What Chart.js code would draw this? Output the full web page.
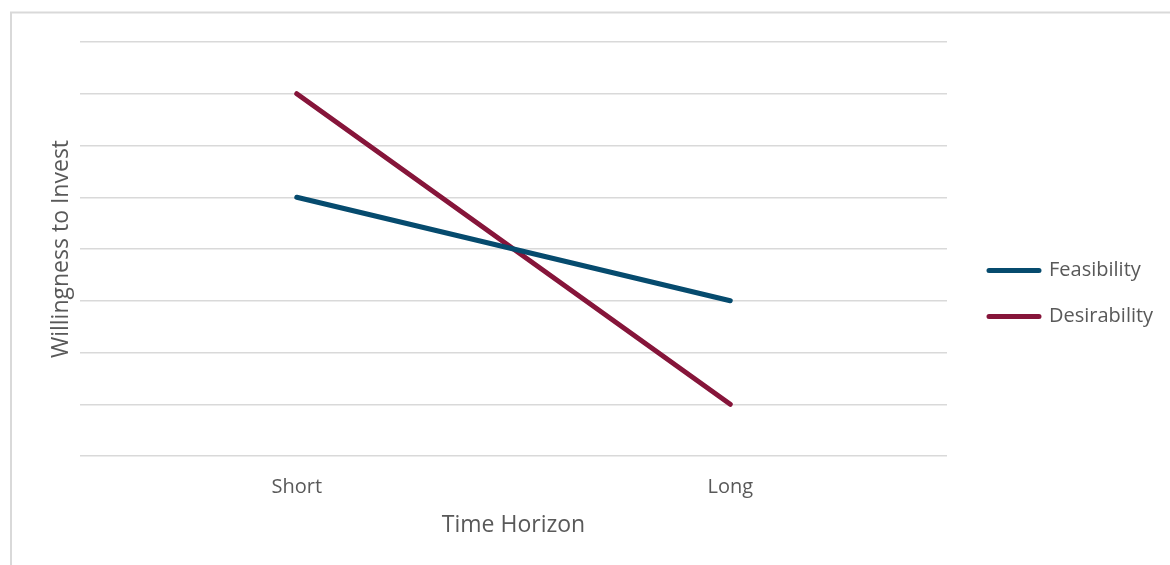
<!DOCTYPE html>
<html>
<head>
<meta charset="utf-8">
<script src="https://cdn.jsdelivr.net/npm/chart.js@4"></script>
<style>
  html, body { margin: 0; padding: 0; background: #ffffff; }
  #wrap { width: 1170px; height: 565px; position: relative; }
</style>
</head>
<body>
<div id="wrap"><canvas id="c" width="1170" height="565"></canvas></div>
<script>
// Time horizons on the x axis
const horizons = ['Short', 'Long'];
// Willingness to invest, on an unlabelled 0–8 scale
const feasibility = [5, 3];
const desirability = [7, 1];
const seriesNames = ['Feasibility', 'Desirability'];

const FONT = "'Open Sans', 'Liberation Sans', sans-serif";
const TEXT = '#595959';
const GRID = '#d9d9d9';

// Light outer frame around the chart
const framePlugin = {
  id: 'frame',
  beforeDraw(chart) {
    const ctx = chart.ctx;
    ctx.save();
    ctx.strokeStyle = GRID;
    ctx.lineWidth = 2;
    ctx.strokeRect(11, 12.5, chart.width + 20, chart.height + 20);
    ctx.restore();
  }
};

// Fixed legend column on the right, centred on the full frame height
const legendBoxPlugin = {
  id: 'legendBox',
  beforeLayout(chart) {
    const lg = chart.legend;
    if (lg && !lg._fixedWidth) {
      const fit = lg.fit.bind(lg);
      lg.fit = function () { fit(); this.width = 223; };
      lg._fixedWidth = true;
    }
  },
  afterLayout(chart) {
    const lg = chart.legend;
    if (lg) {
      lg.left = 963;
      lg.right = 1170;
      lg.width = lg.right - lg.left;
      lg.top = 12;
      lg.bottom = 575;
      lg.height = lg.bottom - lg.top;
    }
  }
};

new Chart(document.getElementById('c'), {
  type: 'line',
  data: {
    labels: horizons,
    datasets: [
      {
        label: seriesNames[0],
        data: feasibility,
        borderColor: '#064b6e',
        backgroundColor: '#064b6e',
        borderWidth: 5,
        borderCapStyle: 'round',
        borderJoinStyle: 'round',
        pointRadius: 0,
        tension: 0
      },
      {
        label: seriesNames[1],
        data: desirability,
        borderColor: '#86153a',
        backgroundColor: '#86153a',
        borderWidth: 5,
        borderCapStyle: 'round',
        borderJoinStyle: 'round',
        pointRadius: 0,
        tension: 0
      }
    ]
  },
  options: {
    responsive: false,
    animation: false,
    layout: { padding: { top: 42, left: 0, right: 0, bottom: 0 } },
    plugins: {
      tooltip: { enabled: false },
      legend: {
        position: 'right',
        align: 'center',
        labels: {
          color: TEXT,
          font: { family: FONT, size: 20 },
          boxWidth: 50,
          boxHeight: 0,
          padding: 26
        }
      }
    },
    scales: {
      x: {
        offset: true,
        grid: { display: false, drawTicks: false },
        border: { display: false },
        ticks: { color: TEXT, font: { family: FONT, size: 20 }, padding: 19 },
        title: {
          display: true,
          text: 'Time Horizon',
          color: TEXT,
          font: { family: FONT, size: 23 },
          padding: { top: 0, bottom: 26 }
        },
        afterFit(s) { s.height = 109; }
      },
      y: {
        min: 0,
        max: 8,
        ticks: { display: false, stepSize: 1 },
        grid: { color: GRID, lineWidth: 1.5, drawTicks: false },
        border: { display: false },
        title: {
          display: true,
          text: 'Willingness to Invest',
          color: TEXT,
          font: { family: FONT, size: 23 },
          padding: { top: 48, bottom: 0 }
        },
        afterFit(s) { s.width = 80; }
      }
    }
  },
  plugins: [framePlugin, legendBoxPlugin]
});
</script>
</body>
</html>
